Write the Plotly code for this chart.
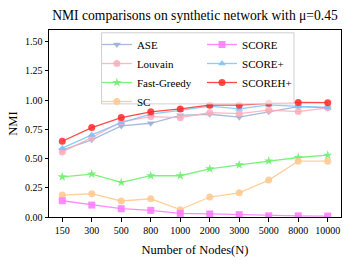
import plotly.graph_objects as go

nodes = ["150", "300", "500", "800", "1000", "2000", "3000", "5000", "8000", "10000"]

ase = [0.572, 0.660, 0.779, 0.802, 0.870, 0.879, 0.854, 0.900, 0.945, 0.933]
louvain = [0.557, 0.680, 0.815, 0.859, 0.850, 0.893, 0.885, 0.914, 0.902, 0.934]
fast_greedy = [0.344, 0.367, 0.296, 0.353, 0.353, 0.412, 0.446, 0.480, 0.509, 0.529]
sc = [0.188, 0.199, 0.137, 0.156, 0.063, 0.171, 0.207, 0.316, 0.478, 0.478]
score = [0.139, 0.102, 0.071, 0.057, 0.031, 0.026, 0.020, 0.010, 0.010, 0.008]
score_plus = [0.589, 0.702, 0.808, 0.880, 0.913, 0.948, 0.925, 0.959, 0.946, 0.937]
scoreh_plus = [0.648, 0.765, 0.851, 0.900, 0.925, 0.957, 0.957, 0.973, 0.980, 0.978]

series = [
    ("ASE", ase, "rgba(150,175,215,0.85)", "triangle-down", "legend"),
    ("Louvain", louvain, "rgba(255,170,185,0.85)", "circle", "legend"),
    ("Fast-Greedy", fast_greedy, "rgba(110,240,110,0.9)", "star", "legend"),
    ("SC", sc, "rgba(255,200,140,0.85)", "circle", "legend"),
    ("SCORE", score, "rgba(255,120,255,0.85)", "square", "legend2"),
    ("SCORE+", score_plus, "rgba(120,195,250,0.85)", "triangle-up", "legend2"),
    ("SCOREH+", scoreh_plus, "rgba(255,40,40,0.85)", "circle", "legend2"),
]

FONT = "Liberation Serif"

fig = go.Figure()
for name, vals, color, sym, leg in series:
    fig.add_trace(go.Scatter(
        x=nodes, y=vals, name=name, mode="lines+markers",
        line=dict(color=color, width=1.3),
        marker=dict(color=color, symbol=sym, size=7, line=dict(width=0)),
        legend=leg,
    ))

legend_common = dict(
    bgcolor="rgba(0,0,0,0)", borderwidth=0,
    font=dict(family=FONT, size=11, color="black"),
    xanchor="left", yanchor="top", tracegroupgap=0, itemwidth=30,
)

fig.update_layout(
    width=357, height=268,
    margin=dict(l=49, r=16, t=30, b=51, autoexpand=False),
    paper_bgcolor="white", plot_bgcolor="white",
    title=dict(text="NMI comparisons on synthetic network with \u03bc=0.45",
               font=dict(family=FONT, size=13.6, color="black"),
               x=0.5 + (49 - 16) / 2 / 357, xanchor="center", y=0.945, yanchor="middle"),
    legend=dict(x=0.164, y=1.0, **legend_common),
    legend2=dict(x=0.524, y=1.0, **legend_common),
    xaxis=dict(
        type="category", range=[-0.45, 9.45], automargin=False,
        showline=True, mirror=True, linecolor="black", linewidth=1,
        ticks="outside", ticklen=3.5, tickcolor="black", showgrid=False,
        tickfont=dict(family=FONT, size=10, color="black"),
        title=dict(text="Number of Nodes(N)", font=dict(family=FONT, size=12.5, color="black"), standoff=10),
    ),
    yaxis=dict(
        range=[0, 1.6], tickvals=[0, 0.25, 0.5, 0.75, 1.0, 1.25, 1.5], tickformat=".2f", automargin=False,
        showline=True, mirror=True, linecolor="black", linewidth=1,
        ticks="outside", ticklen=3.5, tickcolor="black", showgrid=False, zeroline=False,
        tickfont=dict(family=FONT, size=10, color="black"),
        title=dict(text="NMI", font=dict(family=FONT, size=12.5, color="black"), standoff=4),
    ),
    shapes=[dict(type="rect", xref="paper", yref="paper", x0=0.18, x1=0.839, y0=0.605, y1=0.985,
                 line=dict(color="#d0d0d0", width=1), fillcolor="rgba(255,255,255,0.8)", layer="above")],
    showlegend=True,
)

fig.write_html("out.html", config={"displayModeBar": False},
               post_script="document.body.style.margin='0';")
